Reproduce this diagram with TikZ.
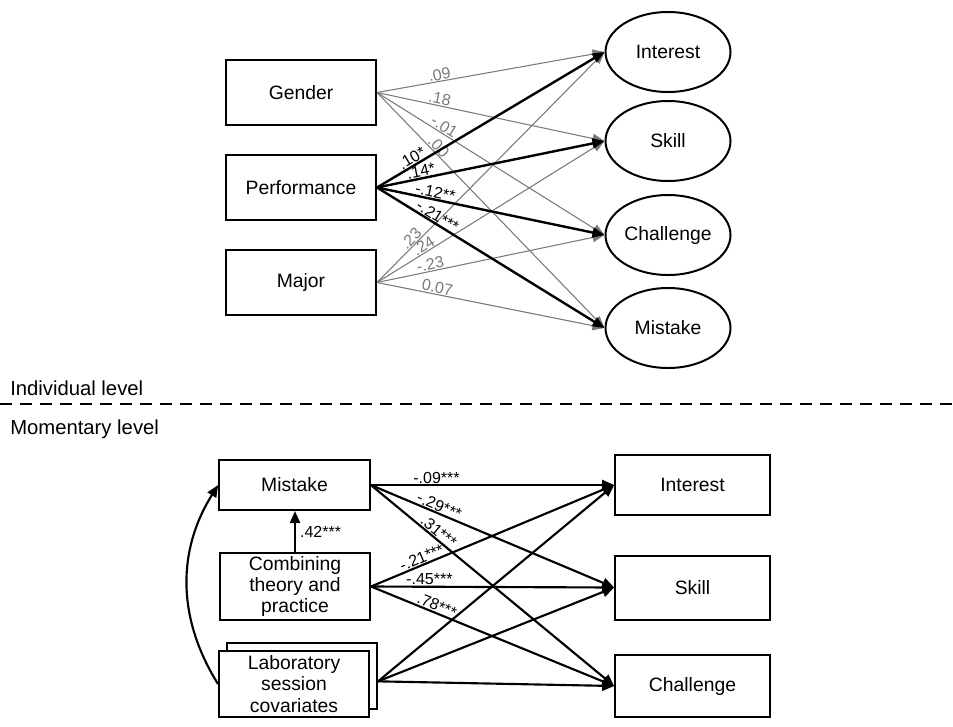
\documentclass[tikz,border=0pt]{standalone}
\usepackage{fontspec}
\setmainfont{Liberation Sans}
\usetikzlibrary{arrows.meta, positioning, shapes.geometric}
\definecolor{pgray}{HTML}{7A7A7A}

\tikzset{
  varbox/.style={draw, line width=1.5pt, fill=white, align=center, inner sep=1pt,
    font=\fontsize{14.5}{16}\selectfont},
  latent/.style={ellipse, draw, line width=1.5pt, inner sep=0pt,
    minimum width=93.75pt, minimum height=60pt, font=\fontsize{14.5}{16}\selectfont},
  thinpath/.style={pgray, line width=0.8pt, -{Triangle[length=9pt, width=7pt]}},
  boldpath/.style={black, line width=1.8pt, -{Triangle[length=9pt, width=7.5pt]}},
  momentpath/.style={black, line width=1.6pt, -{Triangle[length=9pt, width=7.5pt]}},
  coef/.style={sloped, above, inner sep=0.5pt, font=\fontsize{12}{13}\selectfont},
  gcoef/.style={coef, text=pgray},
  levellabel/.style={anchor=west, inner sep=0pt, font=\fontsize{15.2}{17}\selectfont}
}

\begin{document}
\begin{tikzpicture}[x=0.75pt, y=-0.75pt]
\useasboundingbox (0,0) rectangle (953,726);

% individual level
\node[varbox, minimum width=112.5pt, minimum height=48.75pt] (gender) at (301,92.5) {Gender};
\node[varbox, minimum width=112.5pt, minimum height=48.75pt] (performance) at (301,187.5) {Performance};
\node[varbox, minimum width=112.5pt, minimum height=48.75pt] (major) at (301,282.5) {Major};

\node[latent] (interest) at (668,52) {Interest};
\node[latent] (skill) at (668,141) {Skill};
\node[latent] (challenge) at (668,235) {Challenge};
\node[latent] (mistake) at (668,328) {Mistake};

\draw[thinpath] (gender.east) -- (interest.west) node[gcoef, pos=0.28] {.09};
\draw[thinpath] (gender.east) -- (skill.west) node[gcoef, pos=0.27] {.18};
\draw[thinpath] (gender.east) -- (challenge.west) node[gcoef, pos=0.28] {-.01};
\draw[thinpath] (gender.east) -- (mistake.west) node[gcoef, pos=0.25] {.00};
\draw[thinpath] (major.east) -- (interest.west) node[gcoef, pos=0.17] {.23};
\draw[thinpath] (major.east) -- (skill.west) node[gcoef, pos=0.22] {.24};
\draw[thinpath] (major.east) -- (challenge.west) node[gcoef, pos=0.24] {-.23};
\draw[thinpath] (major.east) -- (mistake.west) node[gcoef, pos=0.26] {0.07};
\draw[boldpath] (performance.east) -- (interest.west) node[coef, pos=0.17] {.10*};
\draw[boldpath] (performance.east) -- (skill.west) node[coef, pos=0.2] {.14*};
\draw[boldpath] (performance.east) -- (challenge.west) node[coef, pos=0.25] {-.12**};
\draw[boldpath] (performance.east) -- (mistake.west) node[coef, pos=0.25] {-.21***};

% level divider
\node[levellabel] (indiv) at (10,388) {Individual level};
\draw[line width=2pt, dash pattern=on 9pt off 6pt] (0,404) -- (953,404);
\node[levellabel] (moment) at (10,429) {Momentary level};

% momentary level
\node[varbox, minimum width=113pt, minimum height=37.5pt] (mmistake) at (294.5,485) {Mistake};
\node[varbox, minimum width=112.5pt, minimum height=50pt] (combining) at (295,586.5)
  {Combining\\theory and\\practice};
\node[varbox, minimum width=112.5pt, minimum height=49.5pt] (labback) at (302,676) {};
\node[varbox, minimum width=112.5pt, minimum height=49.5pt] (lab) at (294,684)
  {Laboratory\\session\\covariates};

\node[varbox, minimum width=116pt, minimum height=45pt] (minterest) at (692.5,485) {Interest};
\node[varbox, minimum width=116pt, minimum height=48pt] (mskill) at (692.5,587.5) {Skill};
\node[varbox, minimum width=116pt, minimum height=47pt] (mchallenge) at (692.5,686) {Challenge};

\draw[momentpath] (combining.north) -- (combining.north |- mmistake.south)
  node[midway, right, inner sep=3pt, font=\fontsize{12}{13}\selectfont] (c42) {.42***};
\draw[momentpath] (lab.west) to[bend left=32] (mmistake.west);

\draw[momentpath] (mmistake.east) -- (minterest.west) node[coef, pos=0.27] {-.09***};
\draw[momentpath] (mmistake.east) -- (mskill.west) node[coef, pos=0.27] {-.29***};
\draw[momentpath] (mmistake.east) -- (mchallenge.west) node[coef, pos=0.26] {.31***};
\draw[momentpath] (combining.east) -- (minterest.west) node[coef, pos=0.22] {-.21***};
\draw[momentpath] (combining.east) -- (mskill.west) node[coef, pos=0.24] {-.45***};
\draw[momentpath] (combining.east) -- (mchallenge.west) node[coef, pos=0.26] {.78***};
\draw[momentpath] ([yshift=-4pt]labback.east) -- (minterest.west);
\draw[momentpath] ([yshift=-4pt]labback.east) -- (mskill.west);
\draw[momentpath] ([yshift=-4pt]labback.east) -- (mchallenge.west);
\end{tikzpicture}
\end{document}
